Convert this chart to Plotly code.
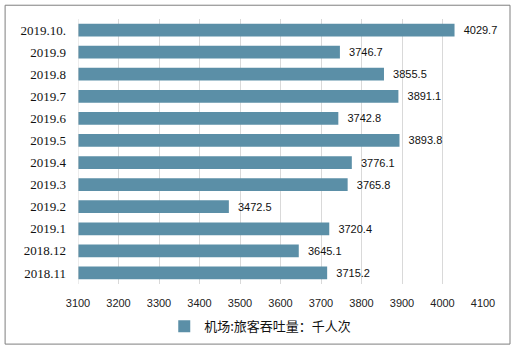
import plotly.graph_objects as go

categories = ["2019.10.", "2019.9", "2019.8", "2019.7", "2019.6", "2019.5", "2019.4",
              "2019.3", "2019.2", "2019.1", "2018.12", "2018.11"]
values = [4029.7, 3746.7, 3855.5, 3891.1, 3742.8, 3893.8, 3776.1,
          3765.8, 3472.5, 3720.4, 3645.1, 3715.2]
x_ticks = list(range(3100, 4101, 100))
series_name = "机场:旅客吞吐量：千人次"

fig = go.Figure(go.Bar(
    y=categories, x=values, orientation="h", name=series_name,
    marker=dict(color="#5b8fa7", line=dict(width=0)),
    text=[f"\u00a0\u00a0{v:.1f}" for v in values], textposition="outside",
    textfont=dict(family="Liberation Sans, Arial", size=11, color="#111"),
    cliponaxis=False, showlegend=True,
))

fig.update_layout(
    width=515, height=353,
    margin=dict(l=78, r=32, t=19, b=65),
    paper_bgcolor="white", plot_bgcolor="white",
    bargap=0.42,
    xaxis=dict(range=[3100, 4100], tickvals=x_ticks, showgrid=True,
               gridcolor="#d9d9d9", gridwidth=1, zeroline=False,
               tickfont=dict(family="Liberation Sans, Arial", size=11, color="#222"),
               ticks="", showline=False, ticklabelstandoff=11),
    yaxis=dict(autorange="reversed", showgrid=False, ticks="", ticklabelstandoff=11,
               tickfont=dict(family="Liberation Serif, 'Noto Sans CJK SC'", size=13, color="#111"),
               showline=False),
    legend=dict(orientation="h", x=0.45, xanchor="center", y=-0.16, yanchor="middle",
                itemwidth=30,
                font=dict(family="'Noto Sans CJK SC'", size=13, color="#111")),
    shapes=[dict(type="rect", xref="paper", yref="paper",
                 x0=-0.180, x1=1.0667, y0=-0.2268, y1=1.052,
                 line=dict(color="#7f7f7f", width=1))],
    showlegend=True,
)
fig.add_shape(type="line", xref="x", yref="paper", x0=3100, x1=3100, y0=0, y1=1,
              line=dict(color="#d9d9d9", width=1))

fig.write_html("out.html")
